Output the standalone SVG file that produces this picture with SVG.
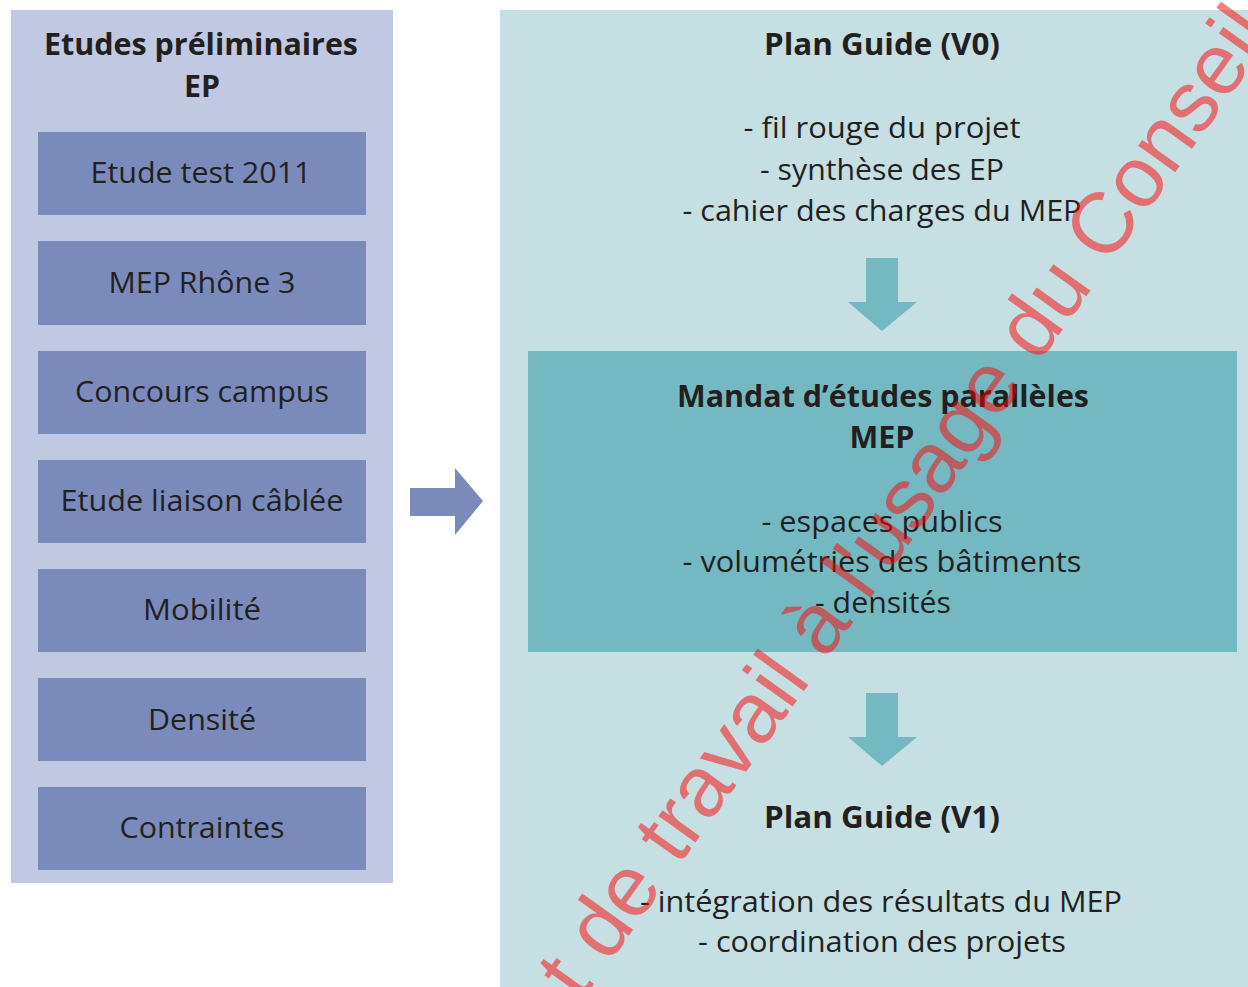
<svg xmlns="http://www.w3.org/2000/svg" width="1248" height="987" viewBox="0 0 1248 987">
<style>
.t{font-family:"Open Sans","Noto Sans","Liberation Sans",sans-serif;font-size:30px;fill:#231f20;text-anchor:middle}
.b{font-weight:bold}
.box{fill:#7a8bbb}
.wm{font-family:"Liberation Sans",Arial,sans-serif;font-size:86px;fill:#ff0000;fill-opacity:0.5}
</style>
<rect width="1248" height="987" fill="#ffffff"/>
<g id="ep-panel">
<rect x="11" y="10" width="382" height="873" fill="#c0c8e2"/>
<text class="t b" x="201" y="55" textLength="314" lengthAdjust="spacingAndGlyphs">Etudes préliminaires</text>
<text class="t b" x="202" y="97" textLength="36" lengthAdjust="spacingAndGlyphs">EP</text>
</g>
<g id="n1"><rect class="box" x="38" y="132" width="328" height="83"/><text class="t" x="201" y="183" textLength="221" lengthAdjust="spacingAndGlyphs">Etude test 2011</text></g>
<g id="n2"><rect class="box" x="38" y="241" width="328" height="84"/><text class="t" x="202" y="293" textLength="187" lengthAdjust="spacingAndGlyphs">MEP Rhône 3</text></g>
<g id="n3"><rect class="box" x="38" y="351" width="328" height="83"/><text class="t" x="202" y="402" textLength="254" lengthAdjust="spacingAndGlyphs">Concours campus</text></g>
<g id="n4"><rect class="box" x="38" y="460" width="328" height="83"/><text class="t" x="202" y="511" textLength="283" lengthAdjust="spacingAndGlyphs">Etude liaison câblée</text></g>
<g id="n5"><rect class="box" x="38" y="569" width="328" height="83"/><text class="t" x="202" y="620" textLength="118" lengthAdjust="spacingAndGlyphs">Mobilité</text></g>
<g id="n6"><rect class="box" x="38" y="678" width="328" height="83"/><text class="t" x="202" y="730" textLength="108" lengthAdjust="spacingAndGlyphs">Densité</text></g>
<g id="n7"><rect class="box" x="38" y="787" width="328" height="83"/><text class="t" x="202" y="838" textLength="165" lengthAdjust="spacingAndGlyphs">Contraintes</text></g>
<g id="right-panel">
<rect x="500" y="10" width="748" height="977" fill="#c5dfe3"/>
</g>
<g id="pg-v0">
<text class="t b" x="882" y="55" textLength="236" lengthAdjust="spacingAndGlyphs">Plan Guide (V0)</text>
<text class="t" x="882" y="138" textLength="277" lengthAdjust="spacingAndGlyphs">- fil rouge du projet</text>
<text class="t" x="882" y="180" textLength="244" lengthAdjust="spacingAndGlyphs">- synthèse des EP</text>
<text class="t" x="882" y="221" textLength="399" lengthAdjust="spacingAndGlyphs">- cahier des charges du MEP</text>
</g>
<g id="mep">
<rect x="528" y="351" width="709" height="301" fill="#74b9c1"/>
<text class="t b" x="883" y="407" textLength="412" lengthAdjust="spacingAndGlyphs">Mandat d’études parallèles</text>
<text class="t b" x="882" y="448" textLength="65" lengthAdjust="spacingAndGlyphs">MEP</text>
<text class="t" x="882" y="532" textLength="241" lengthAdjust="spacingAndGlyphs">- espaces publics</text>
<text class="t" x="882" y="572" textLength="399" lengthAdjust="spacingAndGlyphs">- volumétries des bâtiments</text>
<text class="t" x="883" y="613" textLength="136" lengthAdjust="spacingAndGlyphs">- densités</text>
</g>
<g id="pg-v1">
<text class="t b" x="882" y="828" textLength="236" lengthAdjust="spacingAndGlyphs">Plan Guide (V1)</text>
<text class="t" x="881" y="912" textLength="482" lengthAdjust="spacingAndGlyphs">- intégration des résultats du MEP</text>
<text class="t" x="882" y="952" textLength="368" lengthAdjust="spacingAndGlyphs">- coordination des projets</text>
</g>
<g id="connectors">
<polygon points="410,488 455,488 455,468 483,501 455,535 455,516 410,516" fill="#7a8bbb"/>
<polygon points="866,258 898,258 898,302 917,302 882,331 848,302 866,302" fill="#74b9c1"/>
<polygon points="866,693 898,693 898,737 917,737 882,766 848,737 866,737" fill="#74b9c1"/>
</g>
<text class="wm" x="580.6" y="1002.8" transform="rotate(-54.4 580.6 1002.8)">t de travail à l'usage du Conseil</text>
</svg>
